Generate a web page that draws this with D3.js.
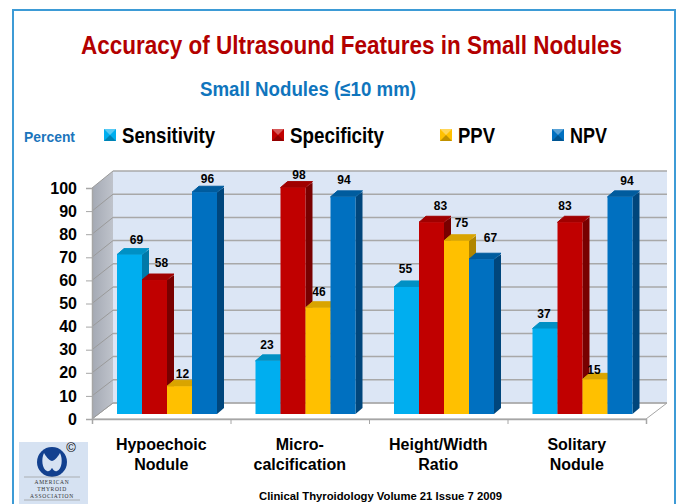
<!DOCTYPE html>
<html>
<head>
<meta charset="utf-8">
<script src="https://d3js.org/d3.v7.min.js"></script>
<style>
  html, body { margin: 0; padding: 0; background: #fff; }
  svg { display: block; }
  text { font-family: "Liberation Sans", Arial, sans-serif; font-weight: bold; }
</style>
</head>
<body>
<div id="chart"></div>
<script>
var categories = [["Hypoechoic", "Nodule"], ["Micro-", "calcification"], ["Height/Width", "Ratio"], ["Solitary", "Nodule"]];
var seriesNames = ["Sensitivity", "Specificity", "PPV", "NPV"];
var sensitivity = [69, 23, 55, 37];
var specificity = [58, 98, 83, 83];
var ppv = [12, 46, 75, 15];
var npv = [96, 94, 67, 94];
var yTicks = [0, 10, 20, 30, 40, 50, 60, 70, 80, 90, 100];

function init()
{
  var w = 677;
  var h = 504;

  var allValues = [sensitivity, specificity, ppv, npv];

  // colours: front, top, side
  var colors = [
    ["#00aeef", "#0090c4", "#0079a8"],
    ["#c00000", "#a00000", "#780000"],
    ["#ffc000", "#d9a400", "#b08500"],
    ["#0070c0", "#005c9e", "#00467c"]
  ];

  // the fake 3d box
  var left = 92, right = 646, depthX = 21, depthY = 16;
  var yFront = d3.scaleLinear().domain([0, 100]).range([419, 188]);
  var yBack = d3.scaleLinear().domain([0, 100]).range([403, 171]);
  var yBar = d3.scaleLinear().domain([0, 100]).range([414, 183]);

  var xGroup = d3.scaleBand().domain(d3.range(categories.length)).range([left, right]);
  var xBar = d3.scaleBand().domain(d3.range(seriesNames.length)).range([25, 125]);

  var svg = d3.select("#chart")
              .append("svg")
              .attr("width", w)
              .attr("height", h);

  var defs = svg.append("defs");
  var wallGrad = defs.append("linearGradient").attr("id", "wall");
  wallGrad.append("stop").attr("offset", "0").attr("stop-color", "#a4a9b4");
  wallGrad.append("stop").attr("offset", "1").attr("stop-color", "#bfc3cb");

  // frame
  svg.append("rect")
     .attr("x", 13).attr("y", 10)
     .attr("width", 662).attr("height", 500)
     .attr("fill", "#fff")
     .attr("stroke", "#3d9bd6")
     .attr("stroke-width", 2);

  // titles
  svg.append("text").text("Accuracy of Ultrasound Features in Small Nodules")
     .attr("x", 81).attr("y", 54)
     .attr("textLength", 541).attr("lengthAdjust", "spacingAndGlyphs")
     .attr("font-size", 25).attr("fill", "#b30000");

  svg.append("text").text("Small Nodules (\u226410 mm)")
     .attr("x", 200).attr("y", 96)
     .attr("textLength", 216).attr("lengthAdjust", "spacingAndGlyphs")
     .attr("font-size", 20).attr("fill", "#0f75bd");

  svg.append("text").text("Percent")
     .attr("x", 24).attr("y", 142)
     .attr("textLength", 51).attr("lengthAdjust", "spacingAndGlyphs")
     .attr("font-size", 15).attr("fill", "#1b75bc");

  // legend
  var legendX = [104, 272, 440, 552];
  var legendTextW = [93, 94, 37, 37];
  var swatch = 12;
  var legend = svg.selectAll(".legend")
      .data(seriesNames)
      .enter()
      .append("g")
      .attr("class", "legend")
      .attr("transform", function(d, i){
        return "translate(" + legendX[i] + ",129)";
      });

  legend.append("rect")
      .attr("width", swatch).attr("height", swatch)
      .attr("fill", function(d, i){ return colors[i][0]; });

  // bevel on the swatch
  legend.append("path")
      .attr("d", "M0,0L12,0L6,6Z")
      .attr("fill", "#fff").attr("opacity", 0.35);
  legend.append("path")
      .attr("d", "M12,12L0,12L6,6Z")
      .attr("fill", "#000").attr("opacity", 0.25);

  legend.append("text")
      .text(function(d){ return d; })
      .attr("x", function(d, i){ return i < 2 ? 18 : 18; })
      .attr("y", 14)
      .attr("textLength", function(d, i){ return legendTextW[i]; })
      .attr("lengthAdjust", "spacingAndGlyphs")
      .attr("font-size", 22)
      .attr("fill", "#000");

  // walls and floor
  var line = d3.line();
  svg.append("path")
     .attr("d", line([[left + depthX, yBack(100)], [right + depthX, yBack(100)], [right + depthX, yBack(0)], [left + depthX, yBack(0)]]) + "Z")
     .attr("fill", "#dce6f5");
  svg.append("path")
     .attr("d", line([[left, yFront(100)], [left + depthX, yBack(100)], [left + depthX, yBack(0)], [left, yFront(0)]]) + "Z")
     .attr("fill", "url(#wall)");
  svg.append("path")
     .attr("d", line([[left, yFront(0)], [left + depthX, yBack(0)], [right + depthX, yBack(0)], [right, yFront(0)]]) + "Z")
     .attr("fill", "#fff")
     .attr("stroke", "#a6a6a6")
     .attr("stroke-width", 1);

  // gridlines on back wall + side wall
  svg.selectAll(".grid")
     .data(yTicks)
     .enter()
     .append("line")
     .attr("class", "grid")
     .attr("x1", left + depthX).attr("x2", right + depthX)
     .attr("y1", function(d){ return yBack(d); })
     .attr("y2", function(d){ return yBack(d); })
     .attr("stroke", "#a8a8a8").attr("stroke-width", 1.5);

  svg.selectAll(".gridSide")
     .data(yTicks)
     .enter()
     .append("line")
     .attr("class", "gridSide")
     .attr("x1", left).attr("x2", left + depthX)
     .attr("y1", function(d){ return yFront(d); })
     .attr("y2", function(d){ return yBack(d); })
     .attr("stroke", "#9a9a9a").attr("stroke-width", 1);

  // axes
  var yAxis = d3.axisLeft(yFront).tickValues(yTicks).tickSize(6).tickPadding(9);
  var gy = svg.append("g").attr("transform", "translate(" + left + ",0)").call(yAxis);
  gy.select(".domain").attr("stroke", "#a6a6a6").attr("stroke-width", 1.5);
  gy.selectAll(".tick line").attr("stroke", "#a6a6a6");
  gy.selectAll(".tick text")
    .attr("font-size", 16)
    .attr("font-family", "\"Liberation Sans\", Arial, sans-serif")
    .attr("font-weight", "bold")
    .attr("fill", "#000");

  var xTickScale = d3.scaleLinear().domain([0, categories.length]).range([left, right]);
  var xAxis = d3.axisBottom(xTickScale).ticks(categories.length).tickSize(5).tickFormat("");
  var gx = svg.append("g").attr("transform", "translate(0," + yFront(0) + ")").call(xAxis);
  gx.select(".domain").attr("stroke", "#a6a6a6").attr("stroke-width", 1.5);
  gx.selectAll(".tick line").attr("stroke", "#a6a6a6");

  // bars, drawn left to right so each covers the neighbour's side
  var barDepthX = 7, barDepthY = 6, barW = xBar.bandwidth();

  categories.forEach(function(cat, c){
    var g = svg.append("g").attr("transform", "translate(" + xGroup(c) + ",0)");

    seriesNames.forEach(function(name, s){
      var v = allValues[s][c];
      var x0 = xBar(s), x1 = x0 + barW, top = yBar(v), bottom = yBar(0);

      g.append("path")
       .attr("d", line([[x1, bottom], [x1 + barDepthX, bottom - barDepthY], [x1 + barDepthX, top - barDepthY + 1], [x1, top]]) + "Z")
       .attr("fill", colors[s][2]);

      g.append("path")
       .attr("d", line([[x0, top], [x0 + barDepthX, top - barDepthY], [x1 + barDepthX, top - barDepthY], [x1, top]]) + "Z")
       .attr("fill", colors[s][1])
       .attr("stroke", colors[s][1])
       .attr("stroke-width", 1)
       .attr("stroke-linejoin", "round");

      g.append("rect")
       .attr("x", x0).attr("y", top)
       .attr("width", barW).attr("height", bottom - top)
       .attr("fill", colors[s][0]);
    });
  });

  // value labels were hand placed in the original, so nudge them: [dx, dy] from bar centre
  var nudge = [
    [[7, -11], [7, -13], [3, -8], [3, -9]],
    [[-1, -12], [6, -9], [1, -12], [1, -13]],
    [[-1, -14], [9, -12], [5, -14], [9, -17]],
    [[-1, -11], [-5, -12], [-1, -5], [7, -12]]
  ];

  categories.forEach(function(cat, c){
    svg.selectAll(".val" + c)
       .data(seriesNames)
       .enter()
       .append("text")
       .attr("class", "val" + c)
       .text(function(d, s){ return allValues[s][c]; })
       .attr("x", function(d, s){ return xGroup(c) + xBar(s) + barW / 2 + nudge[c][s][0]; })
       .attr("y", function(d, s){ return yBar(allValues[s][c]) + nudge[c][s][1]; })
       .attr("text-anchor", "middle")
       .attr("font-size", 12)
       .attr("fill", "#000");
  });

  // category labels
  categories.forEach(function(cat, c){
    var t = svg.append("text")
       .attr("text-anchor", "middle")
       .attr("font-size", 16)
       .attr("fill", "#000");
    cat.forEach(function(part, k){
      t.append("tspan")
       .text(part)
       .attr("x", xGroup(c) + xGroup.bandwidth() / 2)
       .attr("y", 450 + k * 20);
    });
  });

  // footer
  svg.append("text").text("Clinical Thyroidology Volume 21 Issue 7 2009")
     .attr("x", 259).attr("y", 500)
     .attr("textLength", 243).attr("lengthAdjust", "spacingAndGlyphs")
     .attr("font-size", 11.5).attr("fill", "#000");

  // ATA logo
  var logo = svg.append("g");
  logo.append("rect").attr("x", 19).attr("y", 442).attr("width", 69).attr("height", 62).attr("fill", "#d6e2f2");
  logo.append("circle").attr("cx", 52).attr("cy", 462).attr("r", 15).attr("fill", "#12408f");
  logo.append("path")
      .attr("d", "M44,453C41,459 42,469 47,471C50,472 51,469 52,468C53,469 54,472 57,471C62,469 63,459 60,453C58,456 56,460 52,461C48,460 46,456 44,453Z")
      .attr("fill", "#d6e2f2");
  logo.selectAll(".logoText")
      .data(["AMERICAN", "THYROID", "ASSOCIATION"])
      .enter()
      .append("text")
      .attr("class", "logoText")
      .text(function(d){ return d; })
      .attr("x", 52)
      .attr("y", function(d, i){ return 484 + i * 7; })
      .attr("text-anchor", "middle")
      .attr("font-size", 5.5)
      .attr("letter-spacing", 0.7)
      .attr("fill", "#333")
      .style("font-family", "\"Liberation Serif\", serif")
      .style("font-weight", "normal");
  logo.append("line").attr("x1", 24).attr("x2", 80).attr("y1", 477).attr("y2", 477).attr("stroke", "#999").attr("stroke-width", 0.7);
  logo.append("line").attr("x1", 24).attr("x2", 80).attr("y1", 500).attr("y2", 500).attr("stroke", "#999").attr("stroke-width", 0.7);
  logo.append("text").text("\u00a9")
      .attr("x", 71).attr("y", 452)
      .attr("text-anchor", "middle")
      .attr("font-size", 13)
      .attr("fill", "#000")
      .style("font-weight", "normal");
}

window.onload = init;
</script>
</body>
</html>
